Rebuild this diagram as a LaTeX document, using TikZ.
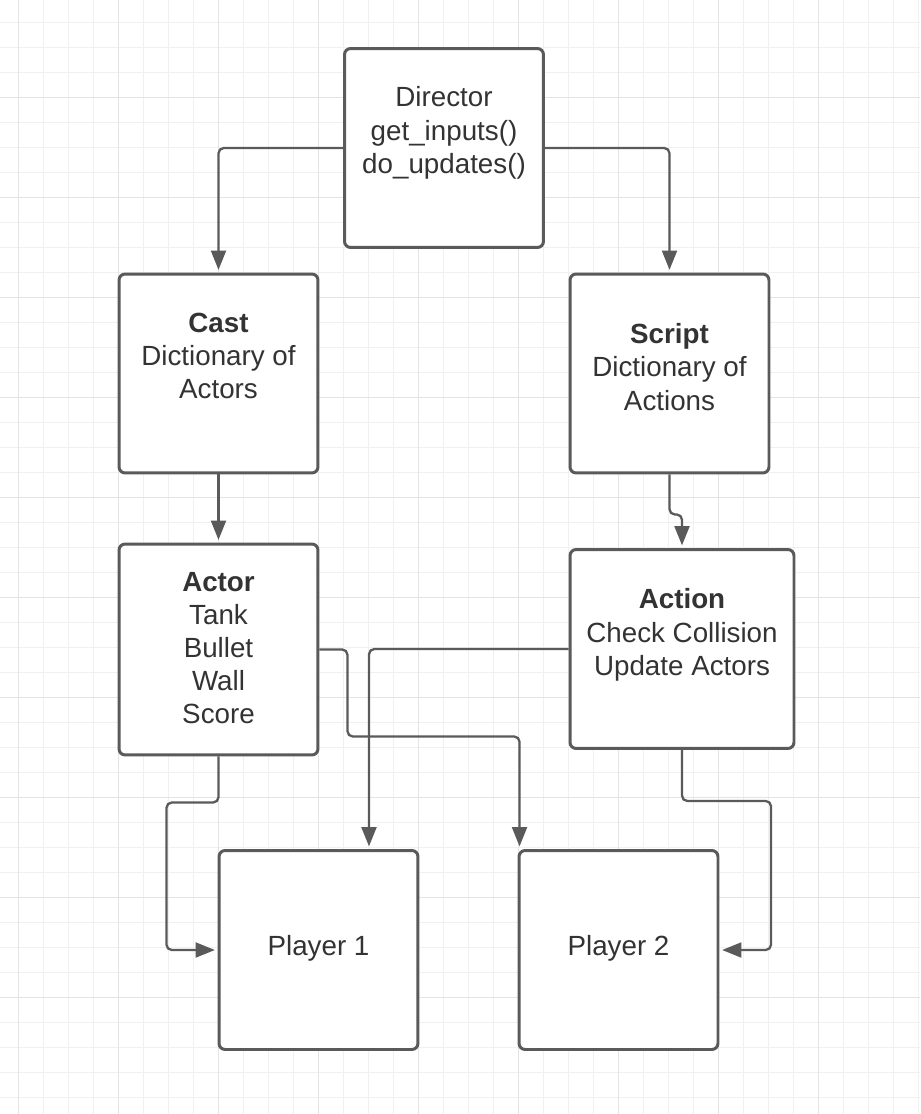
\documentclass[tikz,border=0pt]{standalone}
\usepackage{fontspec}
\setmainfont{Liberation Sans}
\usepackage{tikz}
\usetikzlibrary{arrows.meta,positioning}
\definecolor{linegray}{HTML}{5A5A5A}
\definecolor{textgray}{HTML}{333333}
\definecolor{minorgrid}{HTML}{F0F0F0}
\definecolor{majorgrid}{HTML}{E4E4E4}
\tikzset{
 box/.style={draw=linegray, line width=1.7pt, rounded corners=3.5pt, fill=white, minimum width=3.98cm, minimum height=3.98cm, inner sep=0pt},
 txt/.style={text=textgray, align=center, inner sep=0pt, font=\fontsize{15.8}{18.9}\selectfont},
 conn/.style={draw=linegray, line width=1.3pt, rounded corners=3pt, shorten >=1.5pt, -{Triangle[length=11pt,width=8.5pt]}}
}
\begin{document}
\begin{tikzpicture}[x=0.02cm,y=-0.02cm]
\fill[white](0,0) rectangle (920,1114);
\useasboundingbox (0,0) rectangle (920,1114);
\foreach \x in {18.3,43.3,...,918.3}{
\draw[minorgrid,line width=0.5pt](\x,0)--(\x,1114);}
\foreach \y in {22.7,47.7,...,1112.7}{
\draw[minorgrid,line width=0.5pt](0,\y)--(920,\y);}
\foreach \x in {18.3,118.3,...,818.3}{
\draw[majorgrid,line width=0.6pt](\x,0)--(\x,1114);}
\foreach \y in {97.7,197.7,...,997.7}{
\draw[majorgrid,line width=0.6pt](0,\y)--(920,\y);}
\node[box] (director) at (444,148) {};
\node[box] (cast) at (218.5,373.5) {};
\node[box] (script) at (669.5,373.5) {};
\node[box, minimum height=4.22cm] (actor) at (218.5,649.5) {};
\node[box, minimum width=4.48cm] (action) at (682,649) {};
\node[box] (player1) at (318.5,950) {};
\node[box] (player2) at (618.5,950) {};
\node[txt] (directortext) at (444,133) {Director\\get\_inputs()\\do\_updates()};
\node[txt] (casttext) at (218.5,356) {\textbf{Cast}\\Dictionary of\\Actors};
\node[txt] (scripttext) at (669.5,367) {\textbf{Script}\\Dictionary of\\Actions};
\node[txt] (actortext) at (218.5,648) {\textbf{Actor}\\Tank\\Bullet\\Wall\\Score};
\node[txt] (actiontext) at (682,635) {\textbf{Action}\\Check Collision\\Update Actors};
\node[txt] (player1text) at (318.5,948) {Player 1};
\node[txt] (player2text) at (618.5,948) {Player 2};
\draw[conn](director.west) -| (cast.north);
\draw[conn](director.east) -| (script.north);
\draw[conn](cast.south) -- (actor.north);
\draw[conn](script.south) -- ++(0,40) -| (action.north);
\draw[conn](actor.south) -- ++(0,46) -- ++(-52,0) |- (player1.west);
\draw[conn](action.south) -- ++(0,51) -- ++(89,0) |- (player2.east);
\draw[conn](actor.east) -- ++(28,0) -- ++(0,87) -| ([xshift=0.04cm]player2.north west);
\draw[conn](action.west) -| ([xshift=1.01cm]player1.north);
\end{tikzpicture}
\end{document}
